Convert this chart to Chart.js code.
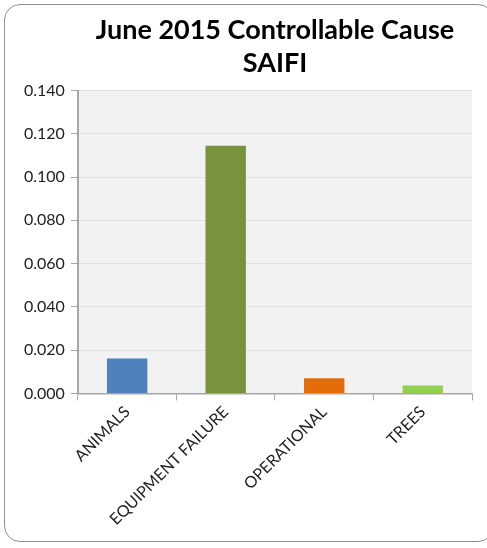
<!DOCTYPE html>
<html>
<head>
<meta charset="utf-8">
<script src="https://cdn.jsdelivr.net/npm/chart.js@4/dist/chart.umd.min.js"></script>
<style>
  body { margin: 0; background: #fff; }
  #wrap { position: relative; width: 487px; height: 548px; overflow: hidden; }
  #frame {
    position: absolute; left: 4px; top: 4px; width: 490px; height: 538px;
    border: 1.5px solid #8f8f8f; border-radius: 16px; box-sizing: border-box;
  }
  canvas { position: absolute; left: 0; top: 0; }
</style>
</head>
<body>
<div id="wrap">
  <div id="frame"></div>
  <canvas id="saifiChart" width="487" height="548"></canvas>
</div>
<script>
const causes = ["ANIMALS", "EQUIPMENT FAILURE", "OPERATIONAL", "TREES"];
const saifi = [0.0162, 0.1145, 0.0070, 0.0037];
const barColors = ["#4f81bd", "#77933c", "#e36c09", "#92d050"];
const yTicks = [0, 0.02, 0.04, 0.06, 0.08, 0.1, 0.12, 0.14];

const plotBackground = {
  id: "plotBackground",
  beforeDraw(chart) {
    const { ctx, chartArea } = chart;
    ctx.save();
    ctx.fillStyle = "#f2f2f2";
    ctx.fillRect(chartArea.left, chartArea.top, chartArea.right - chartArea.left, chartArea.bottom - chartArea.top);
    ctx.restore();
  },
};

const data = {
  labels: causes,
  datasets: [
    {
      label: "SAIFI",
      data: saifi,
      backgroundColor: barColors,
      borderWidth: 0,
      categoryPercentage: 1,
      barPercentage: 0.41,
    },
  ],
};

const config = {
  type: "bar",
  data,
  plugins: [plotBackground],
  options: {
    responsive: false,
    animation: false,
    layout: { padding: { left: 18, right: 15, top: 4, bottom: 17 } },
    plugins: {
      legend: { display: false },
      tooltip: { enabled: false },
      title: {
        display: true,
        fullSize: false,
        text: ["June 2015 Controllable Cause", "SAIFI"],
        color: "#000",
        font: { family: "Lato", size: 27, weight: "bold", lineHeight: 1.25 },
        padding: { top: 9, bottom: 10 },
      },
    },
    scales: {
      y: {
        min: 0,
        max: 0.14,
        afterBuildTicks(axis) {
          axis.ticks = yTicks.map((v) => ({ value: v }));
        },
        ticks: {
          color: "#222",
          font: { family: "Lato", size: 16 },
          padding: 6,
          callback: (v) => Number(v).toFixed(3),
        },
        grid: { color: "#e0e0e0", tickColor: "#a6a6a6", tickLength: 7 },
        border: { color: "#a6a6a6", width: 2 },
      },
      x: {
        offset: true,
        ticks: {
          color: "#222",
          font: { family: "Lato", size: 16 },
          minRotation: 45,
          maxRotation: 45,
          padding: 2,
        },
        grid: {
          offset: true,
          drawOnChartArea: false,
          tickColor: "#a6a6a6",
          tickLength: 7,
        },
        border: { color: "#a6a6a6", width: 1.5 },
      },
    },
  },
};

new Chart(document.getElementById("saifiChart"), config);
</script>
</body>
</html>
